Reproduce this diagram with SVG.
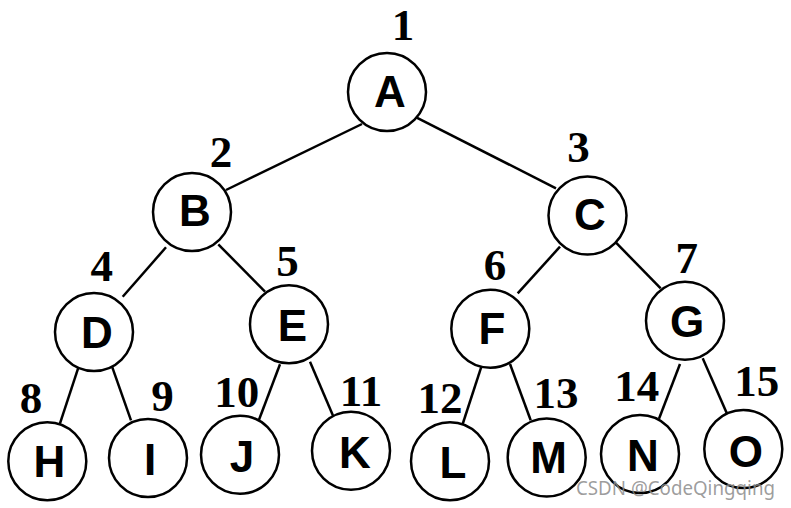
<svg xmlns="http://www.w3.org/2000/svg" width="791" height="508" viewBox="0 0 791 508">
<style>
.n circle{fill:#fff;stroke:#000;stroke-width:2.5}
.n text.l{font-family:"Liberation Sans",Arial,sans-serif;font-weight:bold;font-size:44px;text-anchor:middle;fill:#000}
.n text.k{font-family:"Liberation Serif","Times New Roman",serif;font-weight:bold;font-size:45px;text-anchor:middle;fill:#000}
#edges line{stroke:#000;stroke-width:2.5}
.wm{font-family:"Noto Sans","Liberation Sans",sans-serif;font-size:20px;fill:#8c8c8c;fill-opacity:0.85}
</style>
<rect width="791" height="508" fill="#fff"/>
<g id="edges">
<line x1="362" y1="124" x2="226" y2="190"/>
<line x1="416.7" y1="117.7" x2="556" y2="188.3"/>
<line x1="166" y1="247.3" x2="122.7" y2="296.7"/>
<line x1="218.3" y1="244.3" x2="265" y2="291.7"/>
<line x1="560" y1="246.7" x2="517.7" y2="293.3"/>
<line x1="616" y1="242.7" x2="660.7" y2="288.3"/>
<line x1="79" y1="365.7" x2="59" y2="426.3"/>
<line x1="111.7" y1="365.7" x2="131" y2="420.3"/>
<line x1="280" y1="364.3" x2="259" y2="419.7"/>
<line x1="310" y1="361.7" x2="334" y2="418"/>
<line x1="481.7" y1="365.7" x2="461.7" y2="427"/>
<line x1="510" y1="364" x2="530.7" y2="420.3"/>
<line x1="680" y1="364" x2="659" y2="418.7"/>
<line x1="702.7" y1="358.3" x2="726.7" y2="413"/>
</g>
<g id="nA" class="n"><circle cx="387" cy="92" r="39"/><text class="l" x="390" y="107">A</text><text class="k" x="403" y="40">1</text></g>
<g id="nB" class="n"><circle cx="192" cy="212" r="39"/><text class="l" x="195" y="226">B</text><text class="k" x="221" y="166.7">2</text></g>
<g id="nC" class="n"><circle cx="587.5" cy="215.5" r="39"/><text class="l" x="590" y="230">C</text><text class="k" x="578.5" y="162.3">3</text></g>
<g id="nD" class="n"><circle cx="94" cy="332" r="39"/><text class="l" x="97" y="348">D</text><text class="k" x="101.7" y="280.7">4</text></g>
<g id="nE" class="n"><circle cx="289" cy="324.3" r="39"/><text class="l" x="292.5" y="340.5">E</text><text class="k" x="287.5" y="276">5</text></g>
<g id="nF" class="n"><circle cx="490.3" cy="328.7" r="39"/><text class="l" x="492" y="344">F</text><text class="k" x="495" y="280">6</text></g>
<g id="nG" class="n"><circle cx="685" cy="320.8" r="39"/><text class="l" x="687" y="336.5">G</text><text class="k" x="686.7" y="272.7">7</text></g>
<g id="nH" class="n"><circle cx="47.3" cy="461.3" r="39"/><text class="l" x="49.5" y="477">H</text><text class="k" x="31" y="413">8</text></g>
<g id="nI" class="n"><circle cx="148" cy="458" r="39"/><text class="l" x="150" y="474.5">I</text><text class="k" x="162.5" y="411.3">9</text></g>
<g id="nJ" class="n"><circle cx="240" cy="454.7" r="39"/><text class="l" x="242" y="471.5">J</text><text class="k" x="236.7" y="407.3">10</text></g>
<g id="nK" class="n"><circle cx="351" cy="450.7" r="39"/><text class="l" x="355" y="468">K</text><text class="k" x="361" y="405.7">11</text></g>
<g id="nL" class="n"><circle cx="450" cy="461.3" r="39"/><text class="l" x="453" y="478">L</text><text class="k" x="440" y="413">12</text></g>
<g id="nM" class="n"><circle cx="546.7" cy="457.5" r="39"/><text class="l" x="548.7" y="473">M</text><text class="k" x="556" y="408">13</text></g>
<g id="nN" class="n"><circle cx="640" cy="454" r="39"/><text class="l" x="643" y="470.5">N</text><text class="k" x="636.7" y="400.7">14</text></g>
<g id="nO" class="n"><circle cx="743.3" cy="449" r="39"/><text class="l" x="745.8" y="467">O</text><text class="k" x="756.7" y="396.3">15</text></g>
<text class="wm" x="576" y="495" textLength="199" lengthAdjust="spacingAndGlyphs">CSDN @CodeQingqing</text>
</svg>
